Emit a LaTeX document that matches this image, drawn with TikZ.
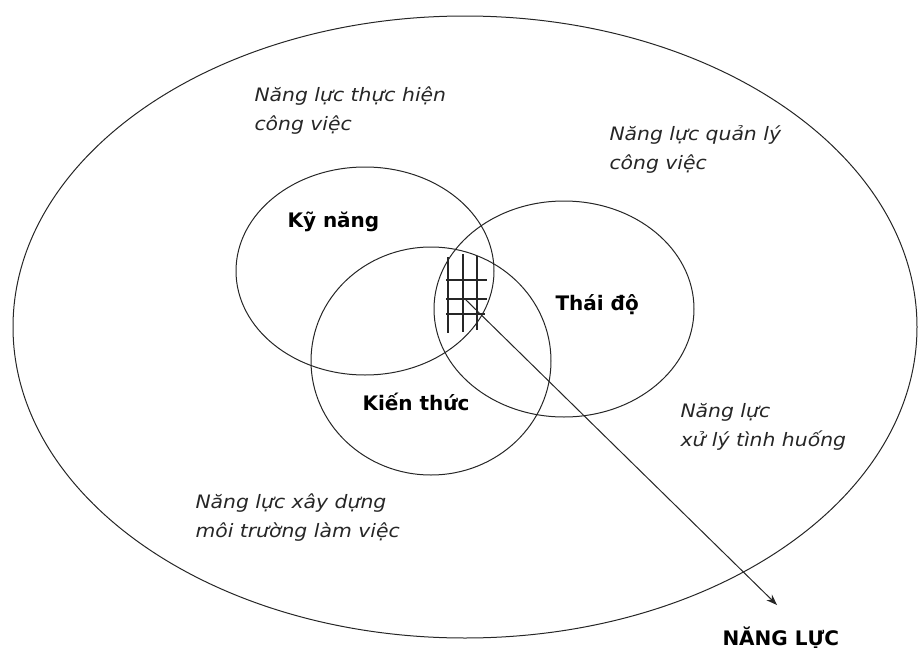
\documentclass[tikz,border=0pt]{standalone}
\usepackage{fontspec}
\setmainfont{DejaVu Sans}
\newfontfamily\lblfont[FakeStretch=1.1]{DejaVu Sans}
\usetikzlibrary{shapes.geometric,arrows.meta}

\begin{document}
\begin{tikzpicture}[x=1pt,y=-1pt,
  line width=1pt,
  ring/.style={draw=black!85, ellipse, inner sep=0pt},
  core/.style={font=\fontsize{20}{24}\selectfont\bfseries, anchor=base west, inner sep=0pt},
  area/.style={font=\lblfont\fontsize{18.5}{29}\selectfont\itshape, anchor=base west,
               align=left, inner sep=0pt, text=black!85},
  hatch/.style={line width=1.1pt, draw=black!85},
  pointer/.style={draw=black!85, -{Stealth[length=11pt,width=8pt]}}
]
\useasboundingbox (0,0) rectangle (919,648);

% whole competence
\node[ring, minimum width=904pt, minimum height=622pt] (nl) at (465,327) {};

% the three components
\node[ring, minimum width=258pt, minimum height=208pt] (kn) at (365,271) {};
\node[ring, minimum width=260pt, minimum height=216pt] (td) at (564,309) {};
\node[ring, minimum width=240pt, minimum height=228pt] (kt) at (431,361) {};

\node[core] (lkn) at (287,227) {Kỹ năng};
\node[core] (ltd) at (555,310) {Thái độ};
\node[core] (lkt) at (362,410) {Kiến thức};

% grid in the common part
\draw[hatch] (448,257) -- (448,333);
\draw[hatch] (463,254) -- (463,332);
\draw[hatch] (477,256) -- (477,330);
\draw[hatch] (446,280) -- (487,280);
\draw[hatch] (446,299) -- (487,299);
\draw[hatch] (446,314) -- (485,314);

% sub-competences (base anchor sits on the last line)
\node[area] (a1) at (254,130) {Năng lực thực hiện\\công việc};
\node[area] (a2) at (609,169) {Năng lực quản lý\\công việc};
\node[area] (a3) at (680,446) {Năng lực\\xử lý tình huống};
\node[area] (a4) at (195,537) {Năng lực xây dựng\\môi trường làm việc};

% pointer to the whole
\coordinate (hub) at (465,299);
\coordinate (tip) at (777,605);
\draw[pointer] (hub) -- (tip);
\node[core] (lnl) at (722,645) {NĂNG LỰC};
\end{tikzpicture}
\end{document}
